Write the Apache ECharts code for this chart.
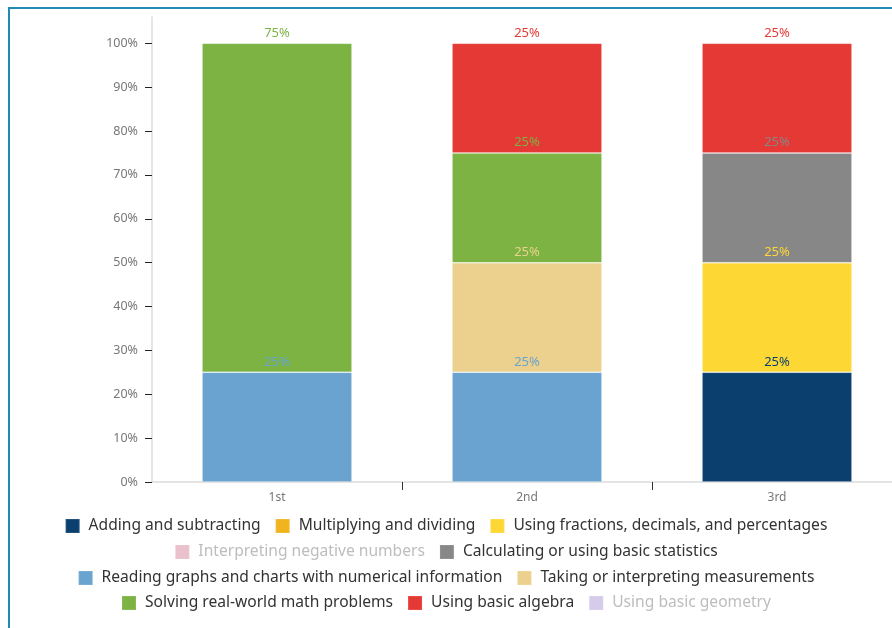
<!DOCTYPE html>
<html>
<head>
<meta charset="utf-8">
<script src="https://cdn.jsdelivr.net/npm/echarts@6/dist/echarts.min.js"></script>
<style>
  html, body { margin: 0; padding: 0; background: #fff; overflow: hidden; }
  #chart { position: absolute; left: -10px; top: 0; width: 912px; height: 628px; }
  #frame { position: absolute; left: 8px; top: 7px; width: 1000px; height: 1000px; border: 2px solid #2189b4; box-sizing: border-box; pointer-events: none; }
</style>
</head>
<body>
<div id="frame"></div>
<div id="chart"></div>
<script>
const categories = ['1st', '2nd', '3rd'];
const yTicks = [0, 10, 20, 30, 40, 50, 60, 70, 80, 90, 100];

const seriesNames = [
  'Adding and subtracting',
  'Multiplying and dividing',
  'Using fractions, decimals, and percentages',
  'Interpreting negative numbers',
  'Calculating or using basic statistics',
  'Reading graphs and charts with numerical information',
  'Taking or interpreting measurements',
  'Solving real-world math problems',
  'Using basic algebra',
  'Using basic geometry'
];
const addingSubtracting   = [null, null, 25];
const multiplyingDividing = [null, null, null];
const usingFractions      = [null, null, 25];
const interpretingNegative = [null, null, null];
const basicStatistics     = [null, null, 25];
const readingGraphs       = [25, 25, null];
const measurements        = [null, 25, null];
const realWorldProblems   = [75, 25, null];
const basicAlgebra        = [null, 25, 25];
const basicGeometry       = [null, null, null];

const seriesValues = [addingSubtracting, multiplyingDividing, usingFractions, interpretingNegative,
  basicStatistics, readingGraphs, measurements, realWorldProblems, basicAlgebra, basicGeometry];
const colors = ['#0b3f6e', '#f0b41e', '#fdd835', '#e9c0cb', '#878787', '#6aa3cf', '#ebd18d', '#7cb342', '#e53935', '#d6cbea'];
const faded = { 'Interpreting negative numbers': true, 'Using basic geometry': true };

const legendRows = [
  [0, 1, 2],
  [3, 4],
  [5, 6],
  [7, 8, 9]
];
const legendTops = [513, 539, 565, 590];

const chart = echarts.init(document.getElementById('chart'));

const legends = legendRows.map((row, r) => ({
  left: 'center',
  top: legendTops[r],
  icon: 'rect',
  itemWidth: 14,
  itemHeight: 14,
  itemGap: 14,
  selectedMode: false,
  textStyle: { fontFamily: 'Noto Sans', fontSize: 15.6, color: '#333', padding: [0, 0, 0, 4] },
  data: row.map(i => {
    const d = { name: seriesNames[i] };
    if (faded[seriesNames[i]]) {
      d.textStyle = { color: '#bdbdbd' };
    }
    return d;
  })
}));

const series = seriesNames.map((name, i) => ({
  name: name,
  type: 'bar',
  stack: 'total',
  barWidth: '60%',
  data: seriesValues[i],
  itemStyle: { color: colors[i], borderColor: 'rgba(255,255,255,0.1)', borderWidth: 1 },
  label: {
    show: true,
    position: 'top',
    distance: 4,
    formatter: '{c}%',
    color: colors[i],
    fontFamily: 'Noto Sans',
    fontSize: 13
  }
}));

chart.setOption({
  animation: false,
  color: colors,
  textStyle: { fontFamily: 'Noto Sans' },
  grid: { left: 162, top: 17, right: 0, bottom: 146, containLabel: false },
  legend: legends,
  xAxis: {
    type: 'category',
    data: categories,
    axisLine: { show: true, lineStyle: { color: '#dcdcdc', width: 1.5 } },
    axisTick: { show: true, length: 8, interval: function (i) { return i > 0; }, lineStyle: { color: '#333', width: 1 } },
    axisLabel: { color: '#777', fontSize: 12, margin: 10 }
  },
  yAxis: {
    type: 'value',
    min: 0,
    max: 106,
    interval: 10,
    splitLine: { show: false },
    axisLine: { show: true, lineStyle: { color: '#dcdcdc', width: 1.5 } },
    axisTick: { show: true, length: 7, customValues: yTicks, lineStyle: { color: '#222', width: 1 } },
    axisLabel: { color: '#777', fontSize: 12.5, margin: 14, formatter: '{value}%', customValues: yTicks }
  },
  series: series
});
</script>
</body>
</html>
